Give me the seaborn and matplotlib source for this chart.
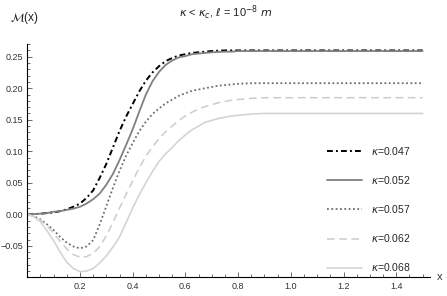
import numpy as np
import pandas as pd
import matplotlib
matplotlib.use('Agg')
import matplotlib.pyplot as plt
import seaborn as sns
from matplotlib.ticker import MultipleLocator, FixedLocator, FuncFormatter

sns.set_style('white')
plt.rcParams['font.family'] = ['Liberation Sans', 'DejaVu Sans']
plt.rcParams['mathtext.fontset'] = 'dejavusans'

# values: x step 0.025 up to 0.8, then 0.05 up to 1.5
x_vals = [round(0.025 * i, 3) for i in range(33)] + [round(0.85 + 0.05 * i, 2) for i in range(14)]

m_047 = [0, 0.0003, 0.001, 0.002, 0.003, 0.005, 0.008, 0.012, 0.017, 0.026, 0.038,
         0.058, 0.080, 0.106, 0.132, 0.155, 0.175, 0.195, 0.212, 0.225, 0.235,
         0.243, 0.248, 0.252, 0.254, 0.256, 0.257, 0.258, 0.259, 0.2595, 0.260,
         0.260, 0.260] + [0.260] * 14
m_052 = [0, 0.0004, 0.001, 0.002, 0.004, 0.005, 0.007, 0.009, 0.012, 0.017, 0.024,
         0.033, 0.047, 0.064, 0.086, 0.110, 0.135, 0.163, 0.190, 0.211, 0.226,
         0.237, 0.244, 0.249, 0.251, 0.254, 0.255, 0.256, 0.257, 0.2575, 0.258,
         0.258, 0.259] + [0.259] * 14
m_057 = [0, -0.003, -0.008, -0.016, -0.025, -0.036, -0.045, -0.051, -0.054, -0.051, -0.041,
         -0.016, 0.013, 0.042, 0.069, 0.093, 0.113, 0.132, 0.147, 0.159, 0.168,
         0.176, 0.182, 0.188, 0.192, 0.196, 0.198, 0.200, 0.202, 0.204, 0.205,
         0.206, 0.207] + [0.208] * 14
m_062 = [0, -0.003, -0.009, -0.018, -0.030, -0.043, -0.055, -0.064, -0.068, -0.067, -0.062,
         -0.051, -0.034, -0.013, 0.010, 0.032, 0.053, 0.074, 0.092, 0.107, 0.120,
         0.131, 0.140, 0.149, 0.156, 0.162, 0.167, 0.171, 0.174, 0.177, 0.179,
         0.181, 0.182] + [0.184] + [0.185] * 13
m_068 = [0, -0.004, -0.012, -0.026, -0.042, -0.060, -0.076, -0.086, -0.091, -0.090, -0.086,
         -0.077, -0.066, -0.052, -0.036, -0.013, 0.010, 0.031, 0.050, 0.068, 0.084,
         0.096, 0.106, 0.117, 0.126, 0.134, 0.140, 0.146, 0.149, 0.152, 0.154,
         0.156, 0.157] + [0.159] + [0.160] * 13

labels = [r'$\kappa$=0.047', r'$\kappa$=0.052', r'$\kappa$=0.057', r'$\kappa$=0.062', r'$\kappa$=0.068']
series = [m_047, m_052, m_057, m_062, m_068]

styles = [
    dict(color='black', lw=1.4, linestyle=(0, (3, 1.6, 1, 1.6))),
    dict(color='#808080', lw=1.3, linestyle='-'),
    dict(color='#6e6e6e', lw=1.3, linestyle=(0, (1, 1.4))),
    dict(color='#cccccc', lw=1.1, linestyle=(0, (5, 3))),
    dict(color='#d4d4d4', lw=1.2, linestyle='-'),
]

fig = plt.figure(figsize=(4.47, 2.96), dpi=100)
ax = fig.add_axes([0.061, 0.063, 0.901, 0.788])

for ys, lab, st in zip(series, labels, styles):
    sns.lineplot(x=x_vals, y=ys, ax=ax, label=lab, **st)

ax.set_xlim(0, 1.528)
ax.set_ylim(-0.1, 0.27)

for s in ['top', 'right']:
    ax.spines[s].set_visible(False)
for s in ['left', 'bottom']:
    ax.spines[s].set_color('black')
    ax.spines[s].set_linewidth(0.8)

ax.xaxis.set_major_locator(FixedLocator([0, 0.2, 0.4, 0.6, 0.8, 1.0, 1.2, 1.4]))
ax.xaxis.set_minor_locator(MultipleLocator(0.05))
ax.yaxis.set_major_locator(FixedLocator([-0.1, -0.05, 0, 0.05, 0.1, 0.15, 0.2, 0.25]))
ax.yaxis.set_minor_locator(MultipleLocator(0.01))

ax.xaxis.set_major_formatter(FuncFormatter(lambda v, p: '' if abs(v) < 1e-9 else f'{v:.1f}'))
ax.yaxis.set_major_formatter(FuncFormatter(
    lambda v, p: '' if v < -0.08 else f'{v:.2f}'.replace('-', '\u2212')))

ax.tick_params(which='both', bottom=True, left=True, direction='in', colors='#555555',
               labelcolor='#333333', labelsize=6.5, width=0.6)
ax.tick_params(which='major', length=3.5, pad=3)
ax.tick_params(which='minor', length=2)
ax.set_xlabel('')
ax.set_ylabel('')

ax.annotate('x', xy=(1, 0), xycoords='axes fraction', xytext=(5, 0),
            textcoords='offset points', va='center', ha='left', fontsize=8, color='#333333')
fig.text(0.022, 0.94, r'$\mathcal{M}$(x)', fontsize=8.5, va='center', ha='left', color='#222222')
fig.text(0.505, 0.955, r'$\kappa$ < $\kappa_c$, $\ell$ = 10$^{-8}$ $m$', fontsize=8,
         va='center', ha='center', color='#222222')

ax.legend(loc='center left', bbox_to_anchor=(0.731, 0.294), bbox_transform=fig.transFigure,
          frameon=False, fontsize=7.5, handlelength=3.4, handletextpad=0.85,
          labelspacing=1.65, borderpad=0, borderaxespad=0)

fig.savefig('out.png', dpi=100)
